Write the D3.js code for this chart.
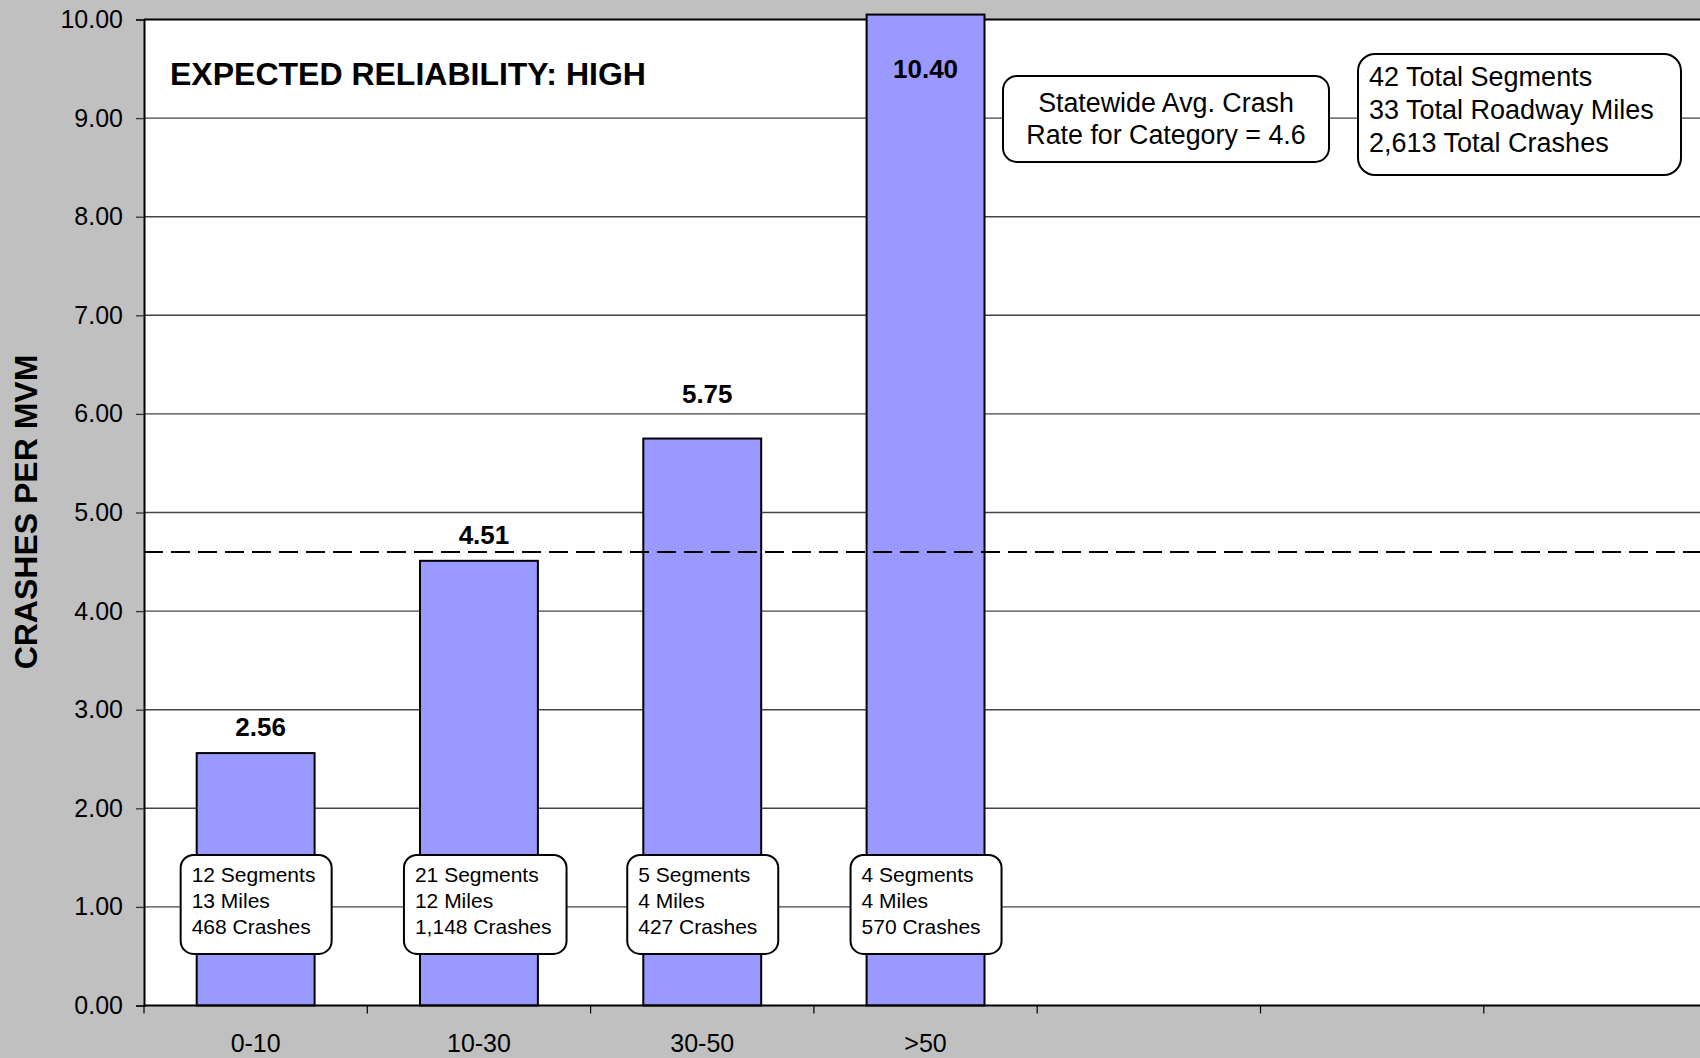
<!DOCTYPE html>
<html>
<head>
<meta charset="utf-8">
<script src="https://cdn.jsdelivr.net/npm/d3@7"></script>
<style>
  html, body { margin: 0; padding: 0; background: #c0c0c0; overflow: hidden; }
  svg { display: block; font-family: "Liberation Sans", Arial, sans-serif; }
</style>
</head>
<body>
<div id="chart"></div>
<script>
// chart data
const categories = ['0-10', '10-30', '30-50', '>50'];
const emptySlots = ['_e1', '_e2', '_e3'];
const rates = [2.56, 4.51, 5.75, 10.40];
const segments = [12, 21, 5, 4];
const miles = [13, 12, 4, 4];
const crashes = [468, 1148, 427, 570];
const statewideAvg = 4.6;
const totalSegments = 42;
const totalMiles = 33;
const totalCrashes = 2613;
const yTicks = [0, 1, 2, 3, 4, 5, 6, 7, 8, 9, 10];

const width = 1700, height = 1058;
const plot = { left: 144, top: 19.5, bottom: 1005.5, step: 223.3 };
const fmt2 = d3.format('.2f');
const fmtComma = d3.format(',');

const svg = d3.select('#chart').append('svg')
  .attr('width', width)
  .attr('height', height);

svg.append('rect')
  .attr('width', width).attr('height', height)
  .attr('fill', '#c0c0c0');

const slots = categories.concat(emptySlots);
const x = d3.scaleBand()
  .domain(slots)
  .range([plot.left, plot.left + slots.length * plot.step])
  .paddingInner(0.472)
  .paddingOuter(0.236);

const y = d3.scaleLinear()
  .domain([0, 10])
  .range([plot.bottom, plot.top]);

const plotRight = x.range()[1];

// plot background
svg.append('rect')
  .attr('x', plot.left).attr('y', y(10))
  .attr('width', plotRight - plot.left)
  .attr('height', y(0) - y(10))
  .attr('fill', '#fff');

// gridlines
svg.append('g')
  .selectAll('line')
  .data(yTicks.filter(d => d > 0 && d < 10))
  .enter().append('line')
  .attr('x1', plot.left).attr('x2', plotRight)
  .attr('y1', d => y(d)).attr('y2', d => y(d))
  .attr('stroke', '#444')
  .attr('stroke-width', 1.4);

// top border
svg.append('line')
  .attr('x1', plot.left).attr('x2', plotRight)
  .attr('y1', y(10)).attr('y2', y(10))
  .attr('stroke', '#000').attr('stroke-width', 2);

// bars (the tallest one runs past the top of the axis)
const barTop = v => y(Math.min(v, 10.05));
svg.append('g')
  .selectAll('rect')
  .data(categories)
  .enter().append('rect')
  .attr('x', d => x(d))
  .attr('y', (d, i) => barTop(rates[i]))
  .attr('width', x.bandwidth())
  .attr('height', (d, i) => y(0) - barTop(rates[i]))
  .attr('fill', '#9999ff')
  .attr('stroke', '#000')
  .attr('stroke-width', 2);

// statewide average dashed line
svg.append('line')
  .attr('x1', plot.left).attr('x2', plotRight)
  .attr('y1', y(statewideAvg)).attr('y2', y(statewideAvg))
  .attr('stroke', '#000')
  .attr('stroke-width', 2)
  .attr('stroke-dasharray', '19,8');

// y axis
const yAxis = svg.append('g')
  .attr('transform', `translate(${plot.left},0)`)
  .call(d3.axisLeft(y).tickValues(yTicks).tickFormat(fmt2).tickSize(8).tickPadding(13));
yAxis.select('.domain').attr('stroke', '#000').attr('stroke-width', 2);
yAxis.selectAll('.tick line').attr('stroke', '#333').attr('stroke-width', 1.3);
yAxis.selectAll('.tick text')
  .attr('font-size', 25)
  .attr('fill', '#000')
  .attr('font-family', '"Liberation Sans", Arial, sans-serif');

// x axis line and boundary ticks
svg.append('line')
  .attr('x1', plot.left).attr('x2', plotRight)
  .attr('y1', y(0)).attr('y2', y(0))
  .attr('stroke', '#000').attr('stroke-width', 2);
svg.append('g')
  .selectAll('line')
  .data(d3.range(slots.length + 1))
  .enter().append('line')
  .attr('x1', i => plot.left + i * x.step())
  .attr('x2', i => plot.left + i * x.step())
  .attr('y1', y(0)).attr('y2', y(0) + 8)
  .attr('stroke', '#000').attr('stroke-width', 1.2);

const xAxis = svg.append('g')
  .attr('transform', `translate(0,${y(0)})`)
  .call(d3.axisBottom(x).tickSize(0).tickPadding(29)
    .tickFormat(d => categories.includes(d) ? d : ''));
xAxis.select('.domain').remove();
xAxis.selectAll('.tick text')
  .attr('font-size', 25)
  .attr('fill', '#000')
  .attr('font-family', '"Liberation Sans", Arial, sans-serif');

// value labels (the 30-50 label sits a little higher, as in the source)
const labelNudge = [0, 0, -19, 0];
svg.append('g')
  .selectAll('text')
  .data(categories)
  .enter().append('text')
  .attr('x', (d, i) => x(d) + x.bandwidth() / 2 + (rates[i] > 10 ? 0 : 5))
  .attr('y', (d, i) => rates[i] > 10 ? y(10) + 58 : y(rates[i]) - 17 + labelNudge[i])
  .attr('text-anchor', 'middle')
  .attr('font-size', 26)
  .attr('font-weight', 'bold')
  .text((d, i) => fmt2(rates[i]));

// per-category info boxes
const boxes = svg.append('g')
  .selectAll('g')
  .data(categories)
  .enter().append('g');

boxes.each(function (d, i) {
  const g = d3.select(this);
  const tx = x(d) + x.bandwidth() / 2 - 64;
  const top = y(1) - 52;
  const lines = [
    `${segments[i]} Segments`,
    `${miles[i]} Miles`,
    `${fmtComma(crashes[i])} Crashes`
  ];
  const rect = g.append('rect');
  const texts = g.selectAll('text')
    .data(lines)
    .enter().append('text')
    .attr('x', tx)
    .attr('y', (t, j) => top + 27.5 + j * 25.8)
    .attr('font-size', 21)
    .attr('fill', '#000')
    .text(t => t);
  let maxW = 0;
  texts.each(function () { maxW = Math.max(maxW, this.getComputedTextLength()); });
  const w = Math.max(maxW + 26, 151);
  rect.attr('x', tx - 11).attr('y', top)
    .attr('width', w).attr('height', 99)
    .attr('rx', 13).attr('ry', 13)
    .attr('fill', '#fff')
    .attr('stroke', '#000')
    .attr('stroke-width', 2);
});

// statewide average note
const avgBox = svg.append('g');
avgBox.append('rect')
  .attr('x', 1003).attr('y', 76)
  .attr('width', 326).attr('height', 86)
  .attr('rx', 14).attr('ry', 14)
  .attr('fill', '#fff').attr('stroke', '#000').attr('stroke-width', 2);
avgBox.selectAll('text')
  .data(['Statewide Avg. Crash', `Rate for Category = ${statewideAvg}`])
  .enter().append('text')
  .attr('x', 1166)
  .attr('y', (t, j) => 111.5 + j * 32)
  .attr('text-anchor', 'middle')
  .attr('font-size', 26.8)
  .text(t => t);

// totals note
const totBox = svg.append('g');
totBox.append('rect')
  .attr('x', 1358).attr('y', 54)
  .attr('width', 323).attr('height', 121)
  .attr('rx', 17).attr('ry', 17)
  .attr('fill', '#fff').attr('stroke', '#000').attr('stroke-width', 2);
totBox.selectAll('text')
  .data([
    `${totalSegments} Total Segments`,
    `${totalMiles} Total Roadway Miles`,
    `${fmtComma(totalCrashes)} Total Crashes`
  ])
  .enter().append('text')
  .attr('x', 1369)
  .attr('y', (t, j) => 86 + j * 33)
  .attr('font-size', 27)
  .text(t => t);

// title inside plot
svg.append('text')
  .attr('x', 170)
  .attr('y', 85)
  .attr('font-size', 32)
  .attr('font-weight', 'bold')
  .text('EXPECTED RELIABILITY: HIGH');

// y axis title
svg.append('text')
  .attr('transform', `translate(37,512) rotate(-90)`)
  .attr('text-anchor', 'middle')
  .attr('font-size', 32)
  .attr('font-weight', 'bold')
  .text('CRASHES PER MVM');
</script>
</body>
</html>
